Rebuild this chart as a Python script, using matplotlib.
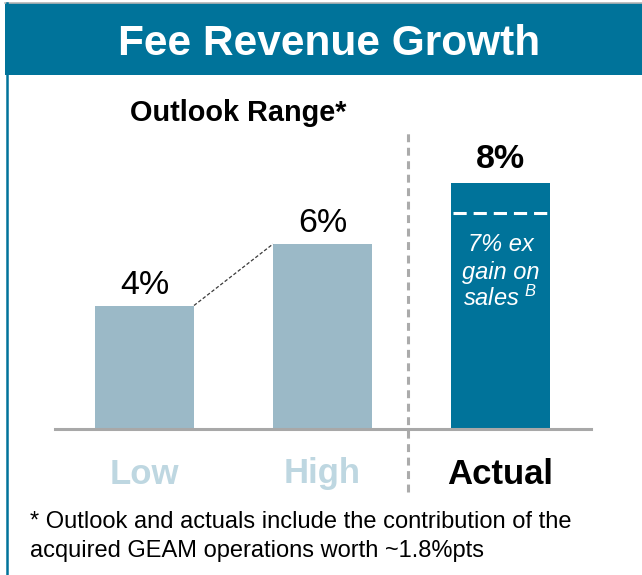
import matplotlib
matplotlib.use("Agg")
import matplotlib.pyplot as plt
from matplotlib.patches import Rectangle
from matplotlib.lines import Line2D

plt.rcParams['font.family'] = ['Liberation Sans', 'DejaVu Sans']
plt.rcParams['mathtext.fontset'] = 'custom'
plt.rcParams['mathtext.it'] = 'Liberation Sans:italic'
plt.rcParams['mathtext.rm'] = 'Liberation Sans:italic'
plt.rcParams['lines.scale_dashes'] = False

# ---- data ----
categories = ["Low", "High", "Actual"]
values = [4, 6, 8]
value_labels = ["4%", "6%", "8%"]
ex_gain_value = 7
title = "Fee Revenue Growth"
subtitle = "Outlook Range*"
inner_text = ["7% ex", "gain on", "sales $^{B}$"]
footnote = ["* Outlook and actuals include the contribution of the",
            "acquired GEAM operations worth ~1.8%pts"]

# ---- styles ----
W, H = 642, 575
DARK = "#00739A"
LIGHT_BAR = "#9BB9C7"
LIGHT_TXT = "#BED7E1"
GRAY = "#A8A8A8"

fig = plt.figure(figsize=(W / 100, H / 100), dpi=100)
fig.patch.set_facecolor("white")

def fx(px):
    return px / W

def fy(py):
    return 1 - py / H

# banner and frame
fig.patches.append(Rectangle((fx(5), fy(75)), fx(W - 5), (75 - 3) / H,
                             transform=fig.transFigure, facecolor=DARK,
                             edgecolor="none", zorder=0))
fig.lines.append(Line2D([fx(5), 1], [fy(2.5), fy(2.5)], transform=fig.transFigure,
                        color="#B5B5B5", lw=1.2))
fig.lines.append(Line2D([fx(6.5), fx(6.5)], [0, fy(3)], transform=fig.transFigure,
                        color=DARK, lw=1.8))
fig.text(fx(329), fy(55), title, color="white", fontsize=30.5, fontweight="bold",
         ha="center", va="baseline")
fig.text(fx(238.5), fy(121), subtitle, color="black", fontsize=20.8,
         fontweight="bold", ha="center", va="baseline")
fig.text(fx(30), fy(528), footnote[0], fontsize=17, ha="left", va="baseline")
fig.text(fx(30), fy(557), footnote[1], fontsize=17, ha="left", va="baseline")

# ---- axes ----
ax_l, ax_r, ax_b, ax_t = 55, 591, 428.5, 130
ax = fig.add_axes([fx(ax_l), fy(ax_b), (ax_r - ax_l) / W, (ax_b - ax_t) / H])
ax.set_facecolor("none")
px_per_unit = 30.75
ax.set_ylim(0, (ax_b - ax_t) / px_per_unit)
c0, spacing = 144.5, 178.0
ax.set_xlim(-(c0 - ax_l) / spacing, (ax_r - c0) / spacing)

x = list(range(len(categories)))
bw = 99 / spacing
colors = [LIGHT_BAR, LIGHT_BAR, DARK]
ax.bar(x, values, width=bw, color=colors, zorder=2)

for s in ["top", "right", "left"]:
    ax.spines[s].set_visible(False)
ax.spines["bottom"].set_color(GRAY)
ax.spines["bottom"].set_linewidth(2.2)
ax.set_xticks([])
ax.set_yticks([])

# value labels
for i, (v, lab) in enumerate(zip(values, value_labels)):
    bold = (i == 2)
    ax.annotate(lab, xy=(i, v), xytext=(0, 14 if bold else 12),
                textcoords="offset pixels", ha="center", va="baseline",
                fontsize=24.5, fontweight="bold" if bold else "normal",
                color="black", annotation_clip=False)

# category labels
for i, cat in enumerate(categories):
    bold = (i == 2)
    ax.annotate(cat, xy=(i, 0), xytext=(0, -55), textcoords="offset pixels",
                ha="center", va="baseline", fontsize=25, fontweight="bold",
                color="black" if bold else LIGHT_TXT, annotation_clip=False)

# connector between low and high
ax.plot([0 + bw / 2, 1 - bw / 2], [values[0], values[1]], color="#3A3A3A",
        lw=0.9, dashes=(2.5, 1.5), zorder=3)

# separator
sep_x = (408 - c0) / spacing
ax.plot([sep_x, sep_x], [-(492 - ax_b) / px_per_unit, ax.get_ylim()[1]],
        color="#ABABAB", lw=2.2, dashes=(5.7, 4.0), clip_on=False, zorder=1)

# ex-gain dashed line inside actual bar
ax.plot([2 - bw / 2 + 0.012, 2 + bw / 2 - 0.012], [ex_gain_value, ex_gain_value],
        color="white", lw=2.2, dashes=(9.5, 5.0), zorder=3)
offsets = [-38, -66, -93]
for t, off in zip(inner_text, offsets):
    ax.annotate(t, xy=(2, ex_gain_value), xytext=(0, off), textcoords="offset pixels",
                ha="center", va="baseline", fontsize=17, fontstyle="italic",
                color="white", zorder=4)

fig.savefig("out.png", dpi=100)
